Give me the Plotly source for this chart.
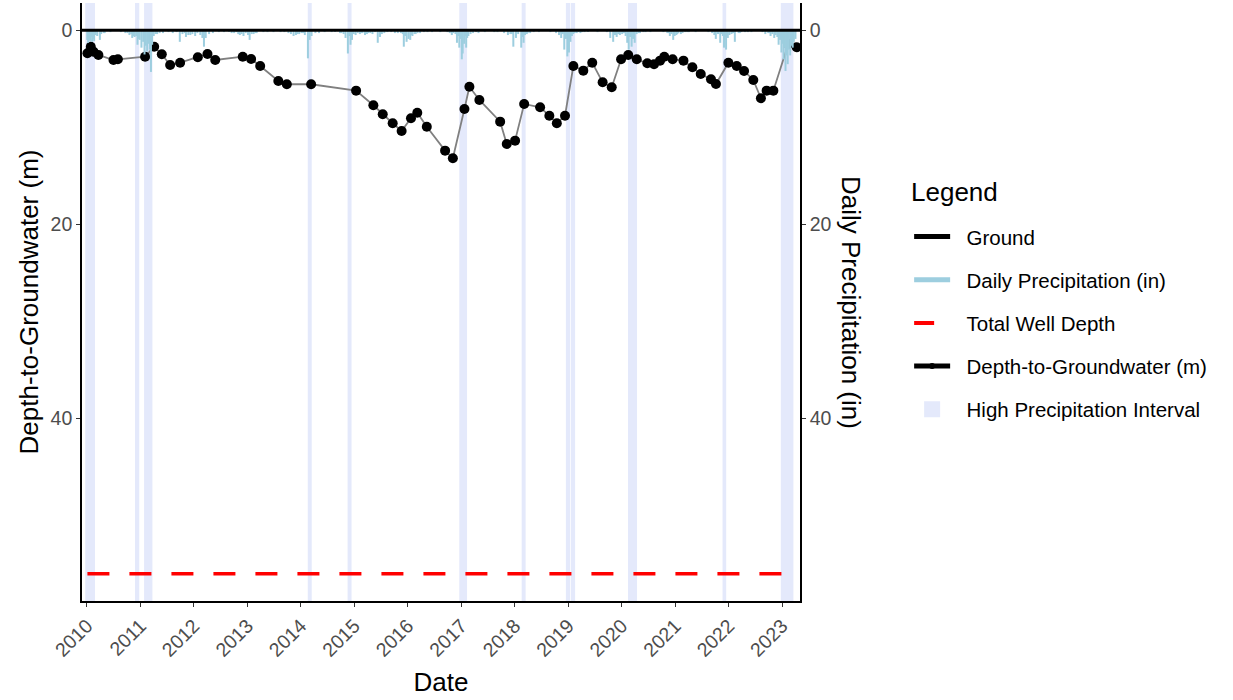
import plotly.graph_objects as go

# Groundwater level observations: date and depth below ground surface (m)
obs_dates = [
    "2010-01-04", "2010-01-27", "2010-02-14", "2010-03-20", "2010-07-01", "2010-07-31",
    "2011-02-02", "2011-04-05", "2011-05-27", "2011-07-23", "2011-09-29", "2012-01-28",
    "2012-04-03", "2012-05-26", "2012-11-30", "2013-01-26", "2013-03-29", "2013-07-31",
    "2013-09-27", "2014-03-12", "2015-01-13", "2015-05-11", "2015-07-14", "2015-09-20",
    "2015-11-20", "2016-01-23", "2016-03-06", "2016-05-10", "2016-09-12", "2016-11-04",
    "2017-01-22", "2017-02-25", "2017-05-04", "2017-09-23", "2017-11-07", "2018-01-03",
    "2018-03-06", "2018-06-23", "2018-08-25", "2018-10-15", "2018-12-10", "2019-02-05",
    "2019-04-14", "2019-06-14", "2019-08-24", "2019-10-25", "2019-12-28", "2020-02-15",
    "2020-04-13", "2020-06-24", "2020-08-09", "2020-09-19", "2020-10-18", "2020-12-14",
    "2021-02-26", "2021-04-28", "2021-06-24", "2021-09-02", "2021-10-06", "2021-12-30",
    "2022-02-25", "2022-04-16", "2022-06-18", "2022-08-09", "2022-09-17", "2022-11-02",
    "2023-02-12", "2023-04-10",
]
depth_m = [
    2.38, 1.70, 2.21, 2.55, 3.07, 3.00,
    2.73, 1.70, 2.48, 3.58, 3.35, 2.79,
    2.45, 3.07, 2.73, 2.97, 3.69, 5.23,
    5.57, 5.57, 6.23, 7.73, 8.66, 9.59,
    10.38, 9.07, 8.50, 9.94, 12.41, 13.19,
    8.12, 5.82, 7.19, 9.42, 11.72, 11.38,
    7.60, 7.94, 8.81, 9.59, 8.81, 3.69,
    4.17, 3.35, 5.37, 5.88, 3.00, 2.55,
    3.00, 3.41, 3.51, 3.14, 2.73, 3.00,
    3.14, 3.82, 4.51, 5.06, 5.54, 3.35,
    3.69, 4.20, 5.13, 7.01, 6.23, 6.23,
    1.42, 1.76,
]

well_depth_m = 56.0
ground_level = 0.0

# Daily precipitation totals (in)
precip_dates = [
    "2010-01-03", "2010-01-09", "2010-01-15", "2010-01-22", "2010-01-28", "2010-02-05",
    "2010-02-12", "2010-02-19", "2010-03-01", "2010-03-12", "2010-03-30", "2010-04-08",
    "2010-05-02", "2010-06-10", "2010-09-20", "2010-10-18", "2010-10-30", "2010-11-06",
    "2010-11-14", "2010-11-22", "2010-12-03", "2010-12-12", "2010-12-19", "2010-12-27",
    "2011-01-08", "2011-01-20", "2011-01-29", "2011-02-06", "2011-02-16", "2011-02-25",
    "2011-03-06", "2011-03-14", "2011-03-22", "2011-04-02", "2011-04-25", "2011-05-12",
    "2011-06-04", "2011-08-10", "2011-09-05", "2011-09-27", "2011-10-15", "2011-11-08",
    "2011-11-24", "2011-12-08", "2011-12-22", "2012-01-10", "2012-01-25", "2012-02-14",
    "2012-02-28", "2012-03-10", "2012-03-22", "2012-04-14", "2012-06-20", "2012-09-15",
    "2012-10-18", "2012-11-10", "2012-11-22", "2012-12-05", "2012-12-20", "2013-01-05",
    "2013-01-16", "2013-01-30", "2013-02-12", "2013-03-05", "2013-04-20", "2013-06-28",
    "2013-09-10", "2013-10-25", "2013-11-12", "2013-12-06", "2014-01-05", "2014-01-28",
    "2014-02-18", "2014-03-02", "2014-03-15", "2014-04-10", "2014-05-05", "2014-07-30",
    "2014-09-25", "2014-10-20", "2014-11-02", "2014-11-18", "2014-11-28", "2014-12-06",
    "2014-12-16", "2014-12-28", "2015-01-10", "2015-01-24", "2015-02-08", "2015-02-26",
    "2015-03-15", "2015-04-06", "2015-05-05", "2015-06-10", "2015-06-25", "2015-07-08",
    "2015-08-15", "2015-10-05", "2015-11-15", "2015-12-05", "2015-12-14", "2015-12-24",
    "2016-01-06", "2016-01-18", "2016-02-02", "2016-02-16", "2016-03-08", "2016-03-25",
    "2016-04-20", "2016-06-15", "2016-09-28", "2016-10-14", "2016-10-28", "2016-11-22",
    "2016-12-02", "2016-12-10", "2016-12-18", "2016-12-24", "2017-01-04", "2017-01-10",
    "2017-01-20", "2017-02-03", "2017-02-10", "2017-02-18", "2017-03-05", "2017-03-22",
    "2017-04-12", "2017-06-10", "2017-09-05", "2017-10-20", "2017-11-15", "2017-12-12",
    "2017-12-22", "2018-01-09", "2018-01-24", "2018-02-14", "2018-02-22", "2018-03-02",
    "2018-03-12", "2018-03-24", "2018-04-16", "2018-05-10", "2018-09-01", "2018-10-10",
    "2018-10-30", "2018-11-14", "2018-11-25", "2018-12-05", "2018-12-16", "2018-12-26",
    "2019-01-06", "2019-01-16", "2019-01-26", "2019-02-04", "2019-02-14", "2019-02-28",
    "2019-03-12", "2019-04-05", "2019-05-16", "2019-07-20", "2019-09-22", "2019-10-15",
    "2019-11-04", "2019-11-17", "2019-11-28", "2019-12-08", "2019-12-20", "2020-01-04",
    "2020-01-17", "2020-01-28", "2020-02-08", "2020-02-18", "2020-02-28", "2020-03-09",
    "2020-03-19", "2020-03-30", "2020-04-12", "2020-05-05", "2020-05-28", "2020-07-15",
    "2020-10-12", "2020-11-08", "2020-11-25", "2020-12-06", "2020-12-18", "2020-12-28",
    "2021-01-08", "2021-01-22", "2021-02-08", "2021-03-10", "2021-04-04", "2021-05-20",
    "2021-08-15", "2021-09-10", "2021-09-25", "2021-10-05", "2021-10-20", "2021-11-04",
    "2021-11-22", "2021-11-30", "2021-12-08", "2021-12-14", "2021-12-26", "2022-01-06",
    "2022-01-20", "2022-02-02", "2022-02-12", "2022-03-10", "2022-03-28", "2022-04-22",
    "2022-06-05", "2022-08-20", "2022-09-08", "2022-09-28", "2022-10-14", "2022-10-26",
    "2022-11-08", "2022-11-18", "2022-11-29", "2022-12-08", "2022-12-18", "2022-12-27",
    "2023-01-04", "2023-01-10", "2023-01-16", "2023-01-24", "2023-01-31", "2023-02-08",
    "2023-02-16", "2023-02-25", "2023-03-05", "2023-03-14", "2023-03-22", "2023-04-02",
    # lighter rain days
    "2010-04-25", "2010-08-20", "2010-10-05", "2011-04-15", "2011-07-12", "2011-10-30",
    "2012-05-10", "2012-07-25", "2012-08-28", "2012-10-02", "2012-10-30", "2013-02-24",
    "2013-05-18", "2013-08-15", "2013-10-08", "2013-11-28", "2013-12-20", "2014-01-16",
    "2014-06-12", "2014-08-22", "2014-10-05", "2015-02-18", "2015-03-28", "2015-04-20",
    "2015-05-22", "2015-07-25", "2015-09-10", "2015-10-25", "2015-11-28", "2016-01-28",
    "2016-02-24", "2016-05-15", "2016-08-10", "2016-11-08", "2017-01-28", "2017-04-28",
    "2017-08-14", "2017-12-02", "2018-03-30", "2018-06-15", "2018-11-05", "2018-12-20",
    "2019-01-10", "2019-03-25", "2019-04-22", "2019-11-10", "2019-12-14", "2020-01-12",
    "2020-04-25", "2020-06-12", "2020-11-16", "2021-01-15", "2021-02-20", "2021-03-25",
    "2021-11-12", "2022-01-28", "2022-03-18", "2022-05-12", "2022-10-05", "2022-12-13",
]
precip_in = [
    1.0, 1.3, 0.8, 1.1, 0.7, 1.2,
    0.9, 1.1, 0.5, 0.6, 1.0, 0.4,
    0.3, 0.2, 0.3, 0.5, 0.4, 0.8,
    0.6, 0.7, 0.6, 1.5, 0.9, 1.0,
    1.8, 1.2, 2.5, 1.6, 2.2, 1.4,
    2.0, 4.3, 1.5, 0.6, 0.4, 0.3,
    0.3, 0.3, 0.2, 1.2, 0.4, 0.7,
    0.5, 0.5, 0.4, 0.6, 0.3, 0.5,
    0.8, 1.7, 0.8, 0.4, 0.2, 0.3,
    0.2, 0.5, 0.4, 0.6, 0.3, 0.5,
    1.0, 0.4, 0.4, 0.3, 0.2, 0.2,
    0.2, 0.4, 0.6, 0.4, 0.3, 0.5,
    2.9, 1.0, 0.6, 0.3, 0.3, 0.2,
    0.3, 0.4, 0.8, 2.4, 0.6, 1.5,
    1.0, 0.4, 0.5, 0.3, 0.4, 0.3,
    0.5, 0.3, 0.4, 1.3, 0.7, 0.4,
    0.2, 0.3, 0.3, 1.7, 0.6, 1.2,
    0.9, 1.0, 0.6, 0.4, 0.3, 0.3,
    0.2, 0.2, 0.2, 0.3, 0.5, 0.4,
    1.3, 0.6, 1.8, 0.9, 3.0, 2.4,
    1.4, 1.8, 0.8, 0.6, 0.4, 0.3,
    0.2, 0.2, 0.2, 0.3, 0.5, 0.4,
    1.7, 0.8, 0.4, 1.8, 0.7, 1.3,
    0.5, 0.4, 0.3, 0.2, 0.2, 0.3,
    0.5, 0.8, 0.4, 2.0, 0.9, 2.7,
    2.3, 1.2, 0.6, 0.4, 0.3, 0.3,
    0.2, 0.2, 0.2, 0.2, 0.2, 0.8,
    1.2, 0.5, 0.7, 0.4, 0.5, 0.4,
    0.3, 0.6, 1.3, 2.0, 0.7, 1.7,
    0.9, 1.3, 0.4, 0.3, 0.2, 0.2,
    0.2, 0.3, 0.6, 0.4, 1.0, 0.6,
    0.5, 0.3, 0.4, 0.2, 0.2, 0.2,
    0.2, 0.3, 0.5, 0.9, 0.4, 1.3,
    0.6, 1.8, 0.7, 2.0, 0.8, 0.5,
    0.4, 0.3, 1.2, 0.3, 0.2, 0.2,
    0.2, 0.2, 0.4, 0.3, 0.6, 0.4,
    0.8, 0.5, 0.7, 1.5, 1.0, 2.3,
    1.4, 3.0, 1.8, 4.2, 2.6, 3.5,
    2.0, 2.6, 1.6, 1.8, 1.2, 0.9,
    # lighter rain days
    0.3, 0.2, 0.3, 0.4, 0.2, 0.3,
    0.3, 0.2, 0.2, 0.3, 0.4, 0.3,
    0.2, 0.2, 0.3, 0.5, 0.4, 0.3,
    0.2, 0.2, 0.3, 0.3, 0.4, 0.3,
    0.2, 0.3, 0.2, 0.3, 0.4, 0.5,
    0.4, 0.2, 0.2, 0.3, 0.6, 0.3,
    0.2, 0.4, 0.3, 0.2, 0.3, 0.6,
    0.9, 0.3, 0.2, 0.5, 0.4, 0.3,
    0.3, 0.2, 0.3, 0.4, 0.3, 0.2,
    0.4, 0.3, 0.3, 0.2, 0.3, 0.6,
]

# High-precipitation intervals
interval_start = [
    "2009-12-20", "2010-11-25", "2011-01-26", "2014-02-17", "2014-11-16", "2016-12-18",
    "2018-02-17", "2018-12-16", "2019-01-20", "2020-02-13", "2021-11-20", "2022-12-23",
]
interval_end = [
    "2010-02-25", "2010-12-24", "2011-03-24", "2014-03-16", "2014-12-13", "2017-02-09",
    "2018-03-16", "2019-01-15", "2019-02-17", "2020-04-15", "2021-12-15", "2023-03-19",
]

x_range = ["2009-11-28", "2023-05-03"]
y_range = [58.8, -2.8]
year_ticks = [f"{y}-01-01" for y in range(2010, 2024)]
year_labels = [str(y) for y in range(2010, 2024)]

FONT = "Liberation Sans, Arial, Helvetica, sans-serif"
TICK_COLOR = "#4D4D4D"
PRECIP_COLOR = "#9DCEDF"
BAND_COLOR = "#E4E9FB"
TITLE_SIZE = 26
TEXT_SIZE = 20.5
NBSP = "\u00a0\u00a0"

fig = go.Figure()

# shaded high-precipitation intervals across the full panel height
for s, e in zip(interval_start, interval_end):
    fig.add_shape(type="rect", xref="x", yref="paper", x0=s, x1=e, y0=0, y1=1,
                  fillcolor=BAND_COLOR, line_width=0, layer="below")

# total well depth
fig.add_trace(go.Scatter(x=[obs_dates[0], obs_dates[-1]], y=[well_depth_m, well_depth_m],
                         mode="lines", line=dict(color="#FF0000", width=3.4, dash="22px,20px"),
                         showlegend=False))

# depth-to-groundwater series
fig.add_trace(go.Scatter(x=obs_dates, y=depth_m, mode="lines",
                         line=dict(color="#808080", width=1.8),
                         showlegend=False))
fig.add_trace(go.Scatter(x=obs_dates, y=depth_m, mode="markers",
                         marker=dict(color="black", size=10),
                         showlegend=False))

# daily precipitation as thin vertical sticks hanging from the ground line (right axis)
px, py = [], []
for d, v in zip(precip_dates, precip_in):
    px += [d, d, None]
    py += [0, v, None]
fig.add_trace(go.Scatter(x=px, y=py, mode="lines", yaxis="y2",
                         line=dict(color=PRECIP_COLOR, width=2),
                         showlegend=False, hoverinfo="skip"))

# ground surface, drawn over the precipitation sticks
fig.add_trace(go.Scatter(x=x_range, y=[ground_level, ground_level], mode="lines",
                         yaxis="y2", line=dict(color="black", width=3),
                         showlegend=False))

# legend keys
legend_keys = [
    ("Ground", dict(mode="lines", line=dict(color="black", width=5))),
    ("Daily Precipitation (in)", dict(mode="lines", line=dict(color=PRECIP_COLOR, width=5))),
    ("Total Well Depth", dict(mode="lines", line=dict(color="#FF0000", width=4, dash="20px,30px"))),
    ("Depth-to-Groundwater (m)", dict(mode="lines+markers", line=dict(color="black", width=5),
                                      marker=dict(color="black", size=6))),
    ("High Precipitation Interval", dict(mode="markers",
                                         marker=dict(color=BAND_COLOR, size=18, symbol="square"))),
]
for i, (name, style) in enumerate(legend_keys):
    fig.add_trace(go.Scatter(x=[None], y=[None], name=NBSP + name, legendgroup=f"k{i}",
                             legendrank=i + 1, **style))

axis_common = dict(showline=True, linecolor="black", linewidth=1.6, ticks="outside",
                   ticklen=4, tickwidth=1, tickcolor="#333333", showgrid=False,
                   zeroline=False, tickfont=dict(family=FONT, size=TEXT_SIZE - 1, color=TICK_COLOR))

fig.update_layout(
    width=1233, height=700,
    margin=dict(l=82, r=433, t=3, b=99),
    paper_bgcolor="white", plot_bgcolor="white",
    font=dict(family=FONT, color="black"),
    showlegend=True,
    xaxis=dict(range=x_range, tickvals=year_ticks, ticktext=year_labels, tickangle=-45,
               title=dict(text="Date", font=dict(family=FONT, size=TITLE_SIZE), standoff=13),
               **axis_common),
    yaxis=dict(range=y_range, tickvals=[0, 20, 40],
               title=dict(text="Depth-to-Groundwater (m)",
                          font=dict(family=FONT, size=TITLE_SIZE), standoff=4),
               **axis_common),
    yaxis2=dict(range=y_range, tickvals=[0, 20, 40], overlaying="y", side="right",
                **axis_common),
    legend=dict(x=1.152, y=0.6425, xanchor="left", yanchor="top",
                font=dict(family=FONT, size=TEXT_SIZE), tracegroupgap=13.5,
                itemwidth=36, bgcolor="rgba(0,0,0,0)"),
    annotations=[
        dict(text="Daily Precipitation (in)", textangle=90, xref="paper",
             yref="paper", x=1.0 + 51 / 718, y=0.5, xanchor="center",
             yanchor="middle", showarrow=False,
             font=dict(family=FONT, size=TITLE_SIZE, color="black")),
        dict(text="Legend", xref="paper", yref="paper",
             x=(909 - 82) / 718, y=(601 - 192) / 598, xanchor="left", yanchor="middle",
             showarrow=False, font=dict(family=FONT, size=TITLE_SIZE, color="black")),
    ],
)

fig.write_html("out.html")
